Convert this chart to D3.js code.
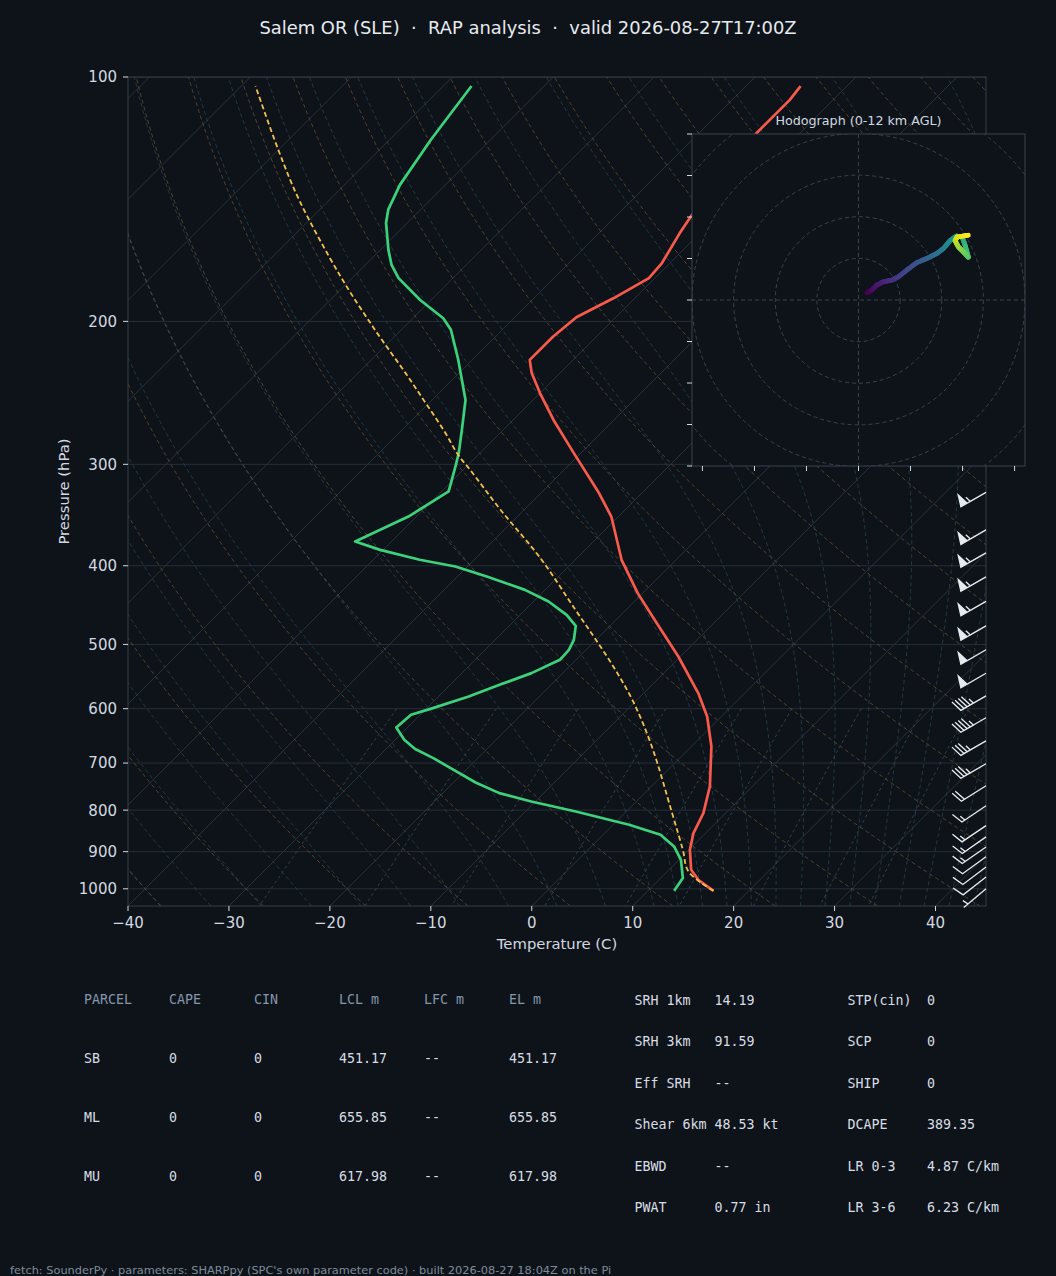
<!DOCTYPE html>
<html><head><meta charset="utf-8">
<script src="https://cdn.jsdelivr.net/npm/d3@7"></script>
<style>
html,body{margin:0;padding:0;background:#0e1319;}
svg{display:block;}
text{font-family:"DejaVu Sans",sans-serif;}
.mono{font-family:"DejaVu Sans Mono",monospace;}
</style></head><body>
<svg id="chart" width="1056" height="1276"></svg>
<script>
// ---------------- DATA ----------------
const titleText = "Salem OR (SLE)  \u00b7  RAP analysis  \u00b7  valid 2026-08-27T17:00Z";
const footerText = "fetch: SounderPy \u00b7 parameters: SHARPpy (SPC's own parameter code) \u00b7 built 2026-08-27 18:04Z on the Pi";

const tempP = [1005.7, 974.8, 947.5, 895.3, 853.9, 806.8, 748, 668, 613.4, 574, 517.4, 468.6, 432.3, 393.3, 347.9, 324, 290.6, 264.5, 245.1, 231.6, 223.1, 208.9, 197.7, 187.2, 176.9, 169.5, 155.7, 147.8, 132, 117.3, 106.7, 102.6];
const tempC = [16.5, 13.9, 12.2, 10.1, 8.8, 7.8, 5.8, 2.0, -1.4, -4.6, -10.2, -15.9, -20.5, -25.4, -30.7, -34.5, -40.7, -46.0, -50.0, -52.8, -54.3, -54.3, -53.9, -52.1, -50.6, -50.8, -52.0, -52.6, -53.5, -54.3, -54.3, -54.6];

const dewP = [1005.7, 970, 921, 886.9, 858, 834, 803.2, 780.7, 762.3, 739.7, 710.1, 690.3, 672.8, 655.3, 632.9, 610.5, 599, 579.6, 560.7, 542.4, 522.3, 507.7, 493.5, 474.3, 459.7, 442.7, 428.3, 412.4, 400.9, 393.3, 382.4, 373.4, 347.9, 324, 301.9, 290.6, 272, 249.9, 223, 204.8, 198.2, 188.2, 176.9, 170.4, 163.3, 151.3, 145.7, 135.8, 119.5, 102.6];
const dewC = [12.6, 12.2, 10.2, 8.2, 5.7, 1.6, -5.0, -10.4, -14.4, -17.8, -21.7, -24.4, -27.1, -29.1, -31.1, -30.9, -29.4, -27.0, -25.1, -23.1, -21.6, -21.7, -22.2, -23.4, -25.4, -28.5, -32.0, -37.1, -41.2, -45.4, -50.3, -53.6, -50.8, -49.3, -51.1, -52.1, -54.1, -56.7, -61.4, -65.1, -67.0, -71.1, -75.4, -77.4, -79.2, -82.1, -83.2, -84.5, -85.9, -87.2];

const parcelP = [1005.7, 952, 895.3, 806.8, 668, 590.3, 537.5, 491.1, 453.4, 391.5, 341, 304.8, 292, 273.6, 246.3, 231.6, 204.9, 176.1, 141.7, 123, 102.6];
const parcelC = [16.5, 12.1, 9.4, 4.7, -3.9, -10.0, -15.1, -20.3, -25.0, -33.6, -42.4, -49.3, -52.0, -55.6, -61.7, -65.3, -72.6, -81.3, -93.0, -100.0, -108.6];

const barbP   = [324.8, 361.3, 385.6, 412.8, 442.5, 474.3, 507.7, 542.7, 578.5, 615.7, 657.3, 701.5, 746.7, 790.2, 836, 863, 888, 913, 940, 967, 1000];
const barbKt  = [55, 55, 55, 55, 55, 55, 50, 50, 45, 45, 35, 35, 20, 15, 15, 15, 15, 10, 10, 10, 5];
const barbDir = [240, 240, 240, 240, 240, 240, 240, 240, 240, 240, 240, 240, 238, 236, 236, 235, 235, 234, 233, 232, 230];

const hodoU = [2.0, 3.2, 4.4, 6.0, 8.0, 9.6, 11.6, 14.0, 16.4, 18.8, 20.4, 22.0, 23.5, 24.9, 25.6, 26.4, 25.2, 24.0, 23.2, 23.7, 26.4];
const hodoV = [1.75, 2.4, 3.6, 4.4, 4.8, 5.6, 7.2, 9.0, 10.0, 11.2, 12.4, 14.3, 15.4, 15.2, 13.2, 10.3, 11.6, 12.8, 14.3, 15.2, 15.6];
const hodoZ = [0, 0.3, 0.7, 1.1, 1.6, 2.0, 2.5, 3.0, 3.6, 4.3, 5.0, 5.8, 6.5, 7.2, 7.9, 8.6, 9.3, 10.0, 10.7, 11.3, 12.0];

const tempTicks = [-40, -30, -20, -10, 0, 10, 20, 30, 40];
const presTicks = [100, 200, 300, 400, 500, 600, 700, 800, 900, 1000];
const hodoRings = [10, 20, 30, 40, 50, 60];
const hodoXTicks = [-37.5, -25, -12.5, 0, 12.5, 25, 37.5];
const hodoYTicks = [-40, -30, -20, -10, 0, 10, 20, 30, 40];

const dryT0 = d3.range(-40, 201, 10);
const moistT0 = d3.range(-50, 10.1, 5).concat(d3.range(12.5, 45.1, 2.5));
const mixRatios = [0.0004, 0.001, 0.002, 0.004, 0.007, 0.01, 0.016, 0.024, 0.032];

const parcelHeader = ["PARCEL", "CAPE", "CIN", "LCL m", "LFC m", "EL m"];
const parcelRows = [
  ["SB", "0", "0", "451.17", "--", "451.17"],
  ["ML", "0", "0", "655.85", "--", "655.85"],
  ["MU", "0", "0", "617.98", "--", "617.98"]
];
const paramLabelsA = ["SRH 1km", "SRH 3km", "Eff SRH", "Shear 6km", "EBWD", "PWAT"];
const paramValuesA = ["14.19", "91.59", "--", "48.53 kt", "--", "0.77 in"];
const paramLabelsB = ["STP(cin)", "SCP", "SHIP", "DCAPE", "LR 0-3", "LR 3-6"];
const paramValuesB = ["0", "0", "0", "389.35", "4.87 C/km", "6.23 C/km"];

// ---------------- STYLE ----------------
const BG = "#0e1319";
const TXT = "#d3d9e0";
const SPINE = "#363f4b";

// ---------------- LAYOUT ----------------
const svg = d3.select("#chart");
svg.append("rect").attr("width", 1056).attr("height", 1276).attr("fill", BG);

const PL = 128, PR = 986, PT = 77, PB = 906;
const x = d3.scaleLinear().domain([-40, 45]).range([PL, PR]);
const y = d3.scaleLog().domain([1050, 100]).range([PB, PT]);
const sx = (t, p) => x(t) + (PB - y(p));

const defs = svg.append("defs");
defs.append("clipPath").attr("id", "plotClip").append("rect")
  .attr("x", PL).attr("y", PT).attr("width", PR - PL).attr("height", PB - PT);

const plot = svg.append("g").attr("clip-path", "url(#plotClip)");

// pressure grid
plot.append("g").selectAll("line").data(presTicks).join("line")
  .attr("x1", PL).attr("x2", PR).attr("y1", d => y(d)).attr("y2", d => y(d))
  .attr("stroke", "#262e39").attr("stroke-width", 1);

// isotherms
plot.append("g").selectAll("line").data(d3.range(-140, 50, 10)).join("line")
  .attr("x1", d => sx(d, 1050)).attr("y1", y(1050))
  .attr("x2", d => sx(d, 100)).attr("y2", y(100))
  .attr("stroke", "#2a323d").attr("stroke-width", 1);

const pSamples = d3.range(0, 61).map(i => 1050 * Math.pow(100 / 1050, i / 60));
const skewLine = d3.line().x(d => sx(d[1], d[0])).y(d => y(d[0]));

// dry adiabats
plot.append("g").selectAll("path").data(dryT0).join("path")
  .attr("d", t0 => skewLine(pSamples.map(p => [p, (t0 + 273.15) * Math.pow(p / 1000, 0.28571) - 273.15])))
  .attr("fill", "none").attr("stroke", "#6b5636").attr("stroke-opacity", 0.7)
  .attr("stroke-width", 1).attr("stroke-dasharray", "4,3");

// moist adiabats
const Rd = 287.04749, Cp = 1004.6662, Lv = 2.50084e6, eps = 0.6219569;
const es = tc => 6.112 * Math.exp(17.67 * tc / (tc + 243.5));
function dTdp(p, TK) {
  const e = es(TK - 273.15);
  const rs = eps * e / (p - e);
  return (Rd * TK + Lv * rs) / (Cp + (Lv * Lv * rs * eps) / (Rd * TK * TK)) / p;
}
function integrate(t0, pEnd, h) {
  const out = [];
  let p = 1000, T = t0 + 273.15;
  out.push([p, T - 273.15]);
  while ((h < 0 && p > pEnd) || (h > 0 && p < pEnd)) {
    const k1 = dTdp(p, T), k2 = dTdp(p + h / 2, T + h / 2 * k1),
          k3 = dTdp(p + h / 2, T + h / 2 * k2), k4 = dTdp(p + h, T + h * k3);
    T += h / 6 * (k1 + 2 * k2 + 2 * k3 + k4);
    p += h;
    out.push([p, T - 273.15]);
  }
  return out;
}
plot.append("g").selectAll("path").data(moistT0).join("path")
  .attr("d", t0 => {
    const up = integrate(t0, 100, -5);
    const dn = integrate(t0, 1050, 5).reverse();
    return skewLine(dn.concat(up.slice(1)));
  })
  .attr("fill", "none").attr("stroke", "#2f5361").attr("stroke-opacity", 0.6)
  .attr("stroke-width", 1).attr("stroke-dasharray", "4,3");

// mixing ratio lines
const mixP = d3.range(0, 41).map(i => 600 + (1050 - 600) * i / 40);
plot.append("g").selectAll("path").data(mixRatios).join("path")
  .attr("d", w => skewLine(mixP.map(p => {
    const e = w * p / (eps + w);
    const l = Math.log(e / 6.112);
    return [p, 243.5 * l / (17.67 - l)];
  })))
  .attr("fill", "none").attr("stroke", "#3a4b5e").attr("stroke-opacity", 0.8)
  .attr("stroke-width", 1).attr("stroke-dasharray", "3,3");

// profiles
const prof = (P, C) => P.map((p, i) => [p, C[i]]);
plot.append("path").attr("d", skewLine(prof(tempP, tempC)))
  .attr("fill", "none").attr("stroke", "#f85a4b").attr("stroke-width", 2.7)
  .attr("stroke-linejoin", "round");
plot.append("path").attr("d", skewLine(prof(dewP, dewC)))
  .attr("fill", "none").attr("stroke", "#3cd27c").attr("stroke-width", 2.7)
  .attr("stroke-linejoin", "round");
const parcelLine = d3.line().x(d => sx(d[1], d[0])).y(d => y(d[0])).curve(d3.curveCatmullRom);
plot.append("path").attr("d", parcelLine(prof(parcelP, parcelC)))
  .attr("fill", "none").attr("stroke", "#f2c14e").attr("stroke-width", 1.8)
  .attr("stroke-dasharray", "5,3");

// frame
svg.append("rect").attr("x", PL).attr("y", PT).attr("width", PR - PL).attr("height", PB - PT)
  .attr("fill", "none").attr("stroke", SPINE).attr("stroke-width", 1);

// y axis ticks
const yAx = svg.append("g");
yAx.selectAll("line").data(presTicks).join("line")
  .attr("x1", PL - 5).attr("x2", PL).attr("y1", d => y(d)).attr("y2", d => y(d))
  .attr("stroke", TXT).attr("stroke-width", 1);
yAx.selectAll("text").data(presTicks).join("text")
  .attr("x", PL - 11).attr("y", d => y(d)).attr("dy", "0.36em")
  .attr("text-anchor", "end").attr("fill", TXT).attr("font-size", 15)
  .text(d => d);
// x axis ticks
const xAx = svg.append("g");
xAx.selectAll("line").data(tempTicks).join("line")
  .attr("x1", d => x(d)).attr("x2", d => x(d)).attr("y1", PB).attr("y2", PB + 5)
  .attr("stroke", TXT).attr("stroke-width", 1);
xAx.selectAll("text").data(tempTicks).join("text")
  .attr("x", d => x(d)).attr("y", 928)
  .attr("text-anchor", "middle").attr("fill", TXT).attr("font-size", 15)
  .text(d => String(d).replace("-", "\u2212"));

svg.append("text").attr("x", (PL + PR) / 2).attr("y", 949).attr("text-anchor", "middle")
  .attr("fill", TXT).attr("font-size", 14.8).text("Temperature (C)");
svg.append("text").attr("transform", `translate(63.5,${(PT + PB) / 2}) rotate(-90)`)
  .attr("text-anchor", "middle").attr("dy", "0.36em")
  .attr("fill", TXT).attr("font-size", 14.8).text("Pressure (hPa)");

// title
svg.append("text").attr("x", 528).attr("y", 33.5).attr("text-anchor", "middle")
  .attr("fill", "#e6ebf0").attr("font-size", 17.9).style("white-space", "pre").text(titleText);

// wind barbs
function barbPath(cx, cy, spd, dir, Lb) {
  const th = dir * Math.PI / 180;
  const s = [Math.sin(th), -Math.cos(th)];
  const b = [-s[1], s[0]];
  let sp = Math.round(spd / 5) * 5;
  const nflags = Math.floor(sp / 50); sp -= nflags * 50;
  const nbarbs = Math.floor(sp / 10); sp -= nbarbs * 10;
  const half = sp >= 5;
  const spacing = Lb * 0.125, fh = Lb * 0.4, fw = Lb * 0.25;
  const v = [[0, 0]];
  let off = Lb;
  for (let i = 0; i < nflags; i++) {
    if (off !== Lb) off += spacing / 2;
    v.push([0, off], [fh, off - fw / 2], [0, off - fw]);
    off -= fw + spacing;
  }
  for (let i = 0; i < nbarbs; i++) {
    v.push([0, off], [fh, off + fw / 2], [0, off]);
    off -= spacing;
  }
  if (half) {
    if (off === Lb) { v.push([0, off]); off -= 1.5 * spacing; }
    v.push([0, off], [fh / 2, off + fw / 4], [0, off]);
  }
  const pts = v.map(([a, c]) => [cx + a * b[0] + c * s[0], cy + a * b[1] + c * s[1]]);
  return "M" + pts.map(p => p[0].toFixed(2) + "," + p[1].toFixed(2)).join("L") + "Z";
}
svg.append("g").selectAll("path").data(barbP).join("path")
  .attr("d", (p, i) => barbPath(PR, y(p), barbKt[i], barbDir[i], 29))
  .attr("fill", "#e6ebf0").attr("stroke", "#e6ebf0").attr("stroke-width", 1.3)
  .attr("stroke-linejoin", "miter");

// ---------------- HODOGRAPH INSET ----------------
const HL = 692, HR = 1025, HT = 134, HB = 466;
const hx = d3.scaleLinear().domain([-40, 40]).range([HL, HR]);
const hy = d3.scaleLinear().domain([-40, 40]).range([HB, HT]);
defs.append("clipPath").attr("id", "hodoClip").append("rect")
  .attr("x", HL).attr("y", HT).attr("width", HR - HL).attr("height", HB - HT);
svg.append("rect").attr("x", HL).attr("y", HT).attr("width", HR - HL).attr("height", HB - HT)
  .attr("fill", BG);
const hg = svg.append("g").attr("clip-path", "url(#hodoClip)");
hg.selectAll("circle").data(hodoRings).join("circle")
  .attr("cx", hx(0)).attr("cy", hy(0)).attr("r", d => hx(d) - hx(0))
  .attr("fill", "none").attr("stroke", "#38424f").attr("stroke-width", 1).attr("stroke-dasharray", "4,3");
hg.append("line").attr("x1", HL).attr("x2", HR).attr("y1", hy(0)).attr("y2", hy(0))
  .attr("stroke", "#38424f").attr("stroke-dasharray", "4,3");
hg.append("line").attr("y1", HT).attr("y2", HB).attr("x1", hx(0)).attr("x2", hx(0))
  .attr("stroke", "#38424f").attr("stroke-dasharray", "4,3");

const segs = [];
const nsub = 8;
for (let i = 0; i < hodoU.length - 1; i++) {
  for (let k = 0; k < nsub; k++) {
    const a = k / nsub, c = (k + 1) / nsub;
    const lerp = (arr, t) => arr[i] + (arr[i + 1] - arr[i]) * t;
    segs.push({
      u1: lerp(hodoU, a), v1: lerp(hodoV, a), u2: lerp(hodoU, c), v2: lerp(hodoV, c),
      z: lerp(hodoZ, (a + c) / 2)
    });
  }
}
hg.append("g").selectAll("line").data(segs).join("line")
  .attr("x1", d => hx(d.u1)).attr("y1", d => hy(d.v1))
  .attr("x2", d => hx(d.u2)).attr("y2", d => hy(d.v2))
  .attr("stroke", d => d3.interpolateViridis(d.z / 12))
  .attr("stroke-width", 4.8).attr("stroke-linecap", "round");

svg.append("rect").attr("x", HL).attr("y", HT).attr("width", HR - HL).attr("height", HB - HT)
  .attr("fill", "none").attr("stroke", "#38424f").attr("stroke-width", 1);
svg.append("g").selectAll("line").data(hodoYTicks).join("line")
  .attr("x1", HL - 5).attr("x2", HL).attr("y1", d => hy(d)).attr("y2", d => hy(d))
  .attr("stroke", TXT).attr("stroke-width", 1);
svg.append("g").selectAll("line").data(hodoXTicks).join("line")
  .attr("x1", d => hx(d)).attr("x2", d => hx(d)).attr("y1", HB).attr("y2", HB + 5)
  .attr("stroke", TXT).attr("stroke-width", 1);
svg.append("text").attr("x", hx(0)).attr("y", 124.5).attr("text-anchor", "middle")
  .attr("fill", TXT).attr("font-size", 12.7).text("Hodograph (0-12 km AGL)");

// ---------------- TABLES ----------------
const tbl = svg.append("g").attr("class", "mono");
const colX = d3.range(6).map(i => 84 + 85 * i);
const rowY = [1004, 1063, 1122, 1181];
tbl.selectAll("text.h").data(parcelHeader).join("text").attr("class", "mono")
  .attr("x", (d, i) => colX[i]).attr("y", rowY[0])
  .attr("fill", "#8596ad").attr("font-size", 13.3).style("white-space", "pre").text(d => d);
parcelRows.forEach((row, r) => {
  tbl.append("g").selectAll("text").data(row).join("text").attr("class", "mono")
    .attr("x", (d, i) => colX[i]).attr("y", rowY[r + 1])
    .attr("fill", "#d8dee6").attr("font-size", 13.3).style("white-space", "pre").text(d => d);
});
const pRowY = d3.range(6).map(i => 1004.5 + 41.5 * i);
const pCols = [[634.5, paramLabelsA], [714.5, paramValuesA], [847.5, paramLabelsB], [927, paramValuesB]];
pCols.forEach(([cx, arr]) => {
  tbl.append("g").selectAll("text").data(arr).join("text").attr("class", "mono")
    .attr("x", cx).attr("y", (d, i) => pRowY[i])
    .attr("fill", "#d8dee6").attr("font-size", 13.3).style("white-space", "pre").text(d => d);
});

// footer
svg.append("text").attr("x", 10).attr("y", 1273.5).attr("fill", "#7f8b9b")
  .attr("font-size", 11.35).text(footerText);
</script>
</body></html>
